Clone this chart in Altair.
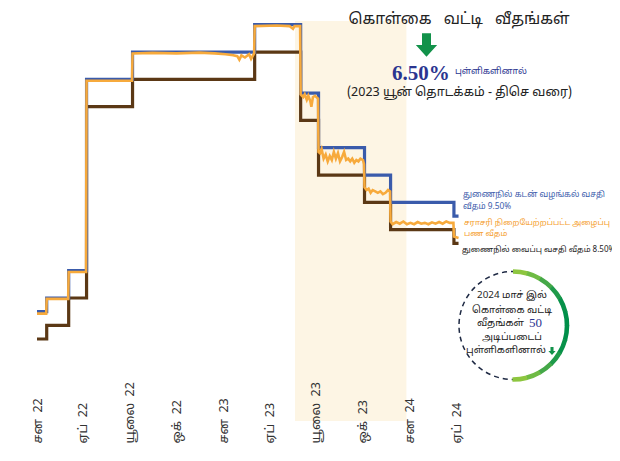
import altair as alt
import pandas as pd

# ---------------- data ----------------
policy_dates = ["2022-01-01", "2022-01-20", "2022-03-04", "2022-04-08", "2022-07-07",
                "2023-03-03", "2023-06-01", "2023-07-06", "2023-10-04", "2023-11-24",
                "2024-03-27", "2024-04-05"]
sdfr = [5.00, 5.50, 6.50, 13.50, 14.50, 15.50, 13.00, 11.00, 10.00, 9.00, 8.50, 8.50]
slfr = [6.00, 6.50, 7.50, 14.50, 15.50, 16.50, 14.00, 12.00, 11.00, 10.00, 9.50, 9.50]

awcmr_dates = [
    "2022-01-01", "2022-01-19", "2022-01-20", "2022-03-03", "2022-03-04", "2022-04-07",
    "2022-04-08", "2022-07-06", "2022-07-07", "2022-08-15", "2022-10-01", "2022-11-15",
    "2022-12-15", "2023-01-05", "2023-01-20", "2023-01-28", "2023-02-01", "2023-02-05",
    "2023-02-12", "2023-02-20", "2023-02-24", "2023-03-02", "2023-03-03", "2023-04-15",
    "2023-05-10", "2023-05-17", "2023-05-20", "2023-05-31", "2023-06-01", "2023-06-06",
    "2023-06-09", "2023-06-13", "2023-06-16", "2023-06-20", "2023-06-22", "2023-06-25",
    "2023-06-29", "2023-07-05", "2023-07-06", "2023-07-09", "2023-07-12", "2023-07-16",
    "2023-07-20", "2023-07-24", "2023-07-28", "2023-08-01", "2023-08-05", "2023-08-09",
    "2023-08-13", "2023-08-17", "2023-08-21", "2023-08-25", "2023-08-29", "2023-09-02",
    "2023-09-06", "2023-09-10", "2023-09-14", "2023-09-18", "2023-09-22", "2023-09-26",
    "2023-10-01", "2023-10-03", "2023-10-04", "2023-10-08", "2023-10-12", "2023-10-16",
    "2023-10-20", "2023-10-25", "2023-10-30", "2023-11-04", "2023-11-09", "2023-11-14",
    "2023-11-19", "2023-11-23", "2023-11-24", "2023-11-28", "2023-12-05", "2023-12-12",
    "2023-12-19", "2023-12-26", "2024-01-02", "2024-01-09", "2024-01-16", "2024-01-23",
    "2024-01-30", "2024-02-06", "2024-02-13", "2024-02-20", "2024-02-27", "2024-03-05",
    "2024-03-12", "2024-03-19", "2024-03-26", "2024-03-27", "2024-04-05"]
awcmr = [
    5.93, 5.93, 6.47, 6.47, 7.45, 7.45,
    14.45, 14.45, 15.45, 15.47, 15.45, 15.48,
    15.45, 15.42, 15.38, 15.35, 15.22, 15.38,
    15.30, 15.42, 15.25, 15.45, 16.45, 16.47,
    16.45, 16.35, 16.45, 16.45, 13.95, 13.85,
    13.95, 13.75, 13.90, 13.70, 13.50, 13.85,
    13.90, 13.80, 11.85, 11.80, 11.95, 11.60,
    11.75, 11.50, 11.70, 11.55, 11.85, 11.60,
    11.80, 11.50, 11.65, 11.85, 11.55, 11.60,
    11.50, 11.60, 11.45, 11.55, 11.50, 11.60,
    11.55, 11.40, 10.55, 10.45, 10.50, 10.35,
    10.45, 10.40, 10.35, 10.40, 10.30, 10.35,
    10.45, 10.40, 9.30, 9.20, 9.28, 9.22,
    9.30, 9.20, 9.25, 9.20, 9.28, 9.22,
    9.25, 9.20, 9.27, 9.22, 9.28, 9.22,
    9.30, 9.25, 9.25, 8.75, 8.70]

shade_start = ["2023-05-21"]
shade_end = ["2023-12-25"]

tick_dates = ["2022-01-01", "2022-04-01", "2022-07-01", "2022-10-01", "2023-01-01",
              "2023-04-01", "2023-07-01", "2023-10-01", "2024-01-01", "2024-04-01"]
tick_labels = ["சன\u00a0\u00a022", "ஏப்\u00a0\u00a022", "யூலை\u00a0\u00a022", "ஒக்\u00a0\u00a022",
               "சன\u00a0\u00a023", "ஏப்\u00a0\u00a023", "யூலை\u00a0\u00a023", "ஒக்\u00a0\u00a023",
               "சன\u00a0\u00a024", "ஏப்\u00a0\u00a024"]

title_text = "கொள்கை\u00a0\u00a0 வட்டி\u00a0\u00a0 வீதங்கள்"
big_value = "6.50%"
big_unit = "புள்ளிகளினால்"
sub_text = "(2023 யூன் தொடக்கம் - திசெ வரை)"
legend_blue = ["துணைநில் கடன் வழங்கல் வசதி", "வீதம் 9.50%"]
legend_orange = ["சராசரி நிறையேற்றப்பட்ட அழைப்பு", "பண வீதம்"]
legend_brown = ["துணைநில் வைப்பு வசதி வீதம் 8.50%"]
circle_lines = ["2024 மாச் இல்", "கொள்கை வட்டி", "வீதங்கள்", "50", "அடிப்படைப்", "புள்ளிகளினால்"]

# ---------------- helpers ----------------
def ms(d):
    return int(pd.Timestamp(d, tz="UTC").value // 10**6)

BLUE = "#3a5bab"
ORANGE = "#f7aa3c"
BROWN = "#5b3815"
NAVY = "#2b3590"
GREEN = "#12924a"
FONT = "Noto Sans Tamil, Latha, Noto Sans, sans-serif"
SERIF = "Liberation Serif, Times New Roman, serif"

labels_js = "[" + ",".join("'" + l + "'" for l in tick_labels) + "]"
dates_js = "[" + ",".join("'" + d + "'" for d in tick_dates) + "]"
label_expr = labels_js + "[indexof(" + dates_js + ", utcFormat(datum.value, '%Y-%m-%d'))]"

xscale = alt.Scale(type="utc", domain=[ms("2022-01-01"), ms("2025-01-01")])
yscale = alt.Scale(domain=[2.0, 16.636], nice=False, zero=False)
xaxis = alt.Axis(values=[ms(d) for d in tick_dates], labelExpr=label_expr, title=None,
                 labelAngle=270, labelAlign="left", labelBaseline="middle",
                 labelPadding=22, ticks=False, tickSize=0, domain=False, grid=False,
                 labelFlush=False, labelOverlap=False, labelFontSize=12.5,
                 labelColor="#333333", labelFont=FONT, zindex=1)

policy_df = pd.DataFrame({"date": policy_dates, "sdfr": sdfr, "slfr": slfr})
awcmr_df = pd.DataFrame({"date": awcmr_dates, "awcmr": awcmr})
shade_df = pd.DataFrame({"start": shade_start, "end": shade_end})

shade = alt.Chart(shade_df).mark_rect(color="#fdf5e4").encode(
    x=alt.X("start:T", scale=xscale, axis=xaxis), x2="end:T")

brown = alt.Chart(policy_df).mark_line(interpolate="step-after", color=BROWN, strokeWidth=3.2).encode(
    x=alt.X("date:T", scale=xscale, axis=xaxis),
    y=alt.Y("sdfr:Q", scale=yscale, axis=None))
blue = alt.Chart(policy_df).mark_line(interpolate="step-after", color=BLUE, strokeWidth=3.2).encode(
    x=alt.X("date:T", scale=xscale, axis=xaxis),
    y=alt.Y("slfr:Q", scale=yscale, axis=None))
orange = alt.Chart(awcmr_df).mark_line(color=ORANGE, strokeWidth=2.6).encode(
    x=alt.X("date:T", scale=xscale, axis=xaxis),
    y=alt.Y("awcmr:Q", scale=yscale, axis=None))

one = pd.DataFrame({"k": [0]})

def txt(text, x, y, size, color, align="left", baseline="middle", weight="normal", font=FONT):
    return alt.Chart(one).mark_text(text=text, align=align, baseline=baseline, fontSize=size,
                                    color=color, fontWeight=weight, font=font).encode(
        x=alt.value(x), y=alt.value(y))

ARROW = "M -0.38 -1 L 0.38 -1 L 0.38 0 L 0.9 0 L 0 1 L -0.9 0 L -0.38 0 Z"

def arrow(x, y, size):
    return alt.Chart(one).mark_point(shape=ARROW, filled=True, color=GREEN, opacity=1,
                                     size=size, strokeWidth=0).encode(
        x=alt.value(x), y=alt.value(y))

annots = [
    txt(title_text, 422, -2, 15.5, "#222222", align="center"),
    arrow(389.5, 24, 560),
    txt(big_value, 355, 59, 21, NAVY, baseline="alphabetic", weight="bold", font=SERIF),
    txt(big_unit, 418, 50, 8.8, NAVY),
    txt(sub_text, 422.5, 71, 12.5, "#222222", align="center"),
    txt(legend_blue[0], 426, 174, 8.3, BLUE),
    txt(legend_blue[1], 426, 186, 8.3, BLUE),
    txt(legend_orange[0], 427, 202, 8.0, "#f5a030"),
    txt(legend_orange[1], 427, 213, 8.0, "#f5a030"),
    txt(legend_brown[0], 425, 229, 8.0, "#222222"),
]

# circle callout
cx, cy, R = 476, 304.5, 54
dashed = alt.Chart(one).mark_point(shape="circle", filled=False, size=(2 * R) ** 2,
                                   color="#1f2a44", strokeWidth=1.5, strokeDash=[5, 4],
                                   opacity=1).encode(x=alt.value(cx), y=alt.value(cy))

arc_colors = ["#8dc63f", "#6fbb44", "#45a848", "#1f9a4a", "#079149", "#008f4a",
              "#008f4a", "#079149", "#1f9a4a", "#45a848", "#6fbb44", "#8dc63f"]
arc_df = pd.DataFrame({"i": list(range(len(arc_colors))), "c": arc_colors})
arc_df["t0"] = arc_df["i"] * 3.14159 / len(arc_colors)
arc_df["t1"] = (arc_df["i"] + 1) * 3.14159 / len(arc_colors) + 0.01
green_arc = alt.Chart(arc_df).mark_arc(stroke=None).encode(
    x=alt.value(cx), y=alt.value(cy),
    theta=alt.Theta("t0:Q", scale=None), theta2="t1",
    radius=alt.value(R + 2.3), radius2=alt.value(R - 2.3),
    fill=alt.Fill("c:N", scale=None))

circ_text = [
    txt(circle_lines[0], 475, 274, 9.8, "#222222", align="center"),
    txt(circle_lines[1], 475, 289, 9.8, "#222222", align="center"),
    txt(circle_lines[2], 487, 302, 9.8, "#222222", align="right"),
    txt(circle_lines[3], 492, 302, 13, NAVY, align="left", font=SERIF),
    txt(circle_lines[4], 475, 316, 9.8, "#222222", align="center"),
    txt(circle_lines[5], 469, 329, 9.8, "#222222", align="center"),
    arrow(515, 330, 64),
]

chart = alt.layer(shade, brown, blue, orange, dashed, green_arc, *annots, *circ_text).properties(
    width=560, height=400, autosize=alt.AutoSizeParams(type="none"),
    padding={"left": 29, "top": 13, "right": 15, "bottom": 32},
    background="white"
).configure_view(stroke=None)

chart.save("out.html", embed_options={"renderer": "svg", "actions": False})
